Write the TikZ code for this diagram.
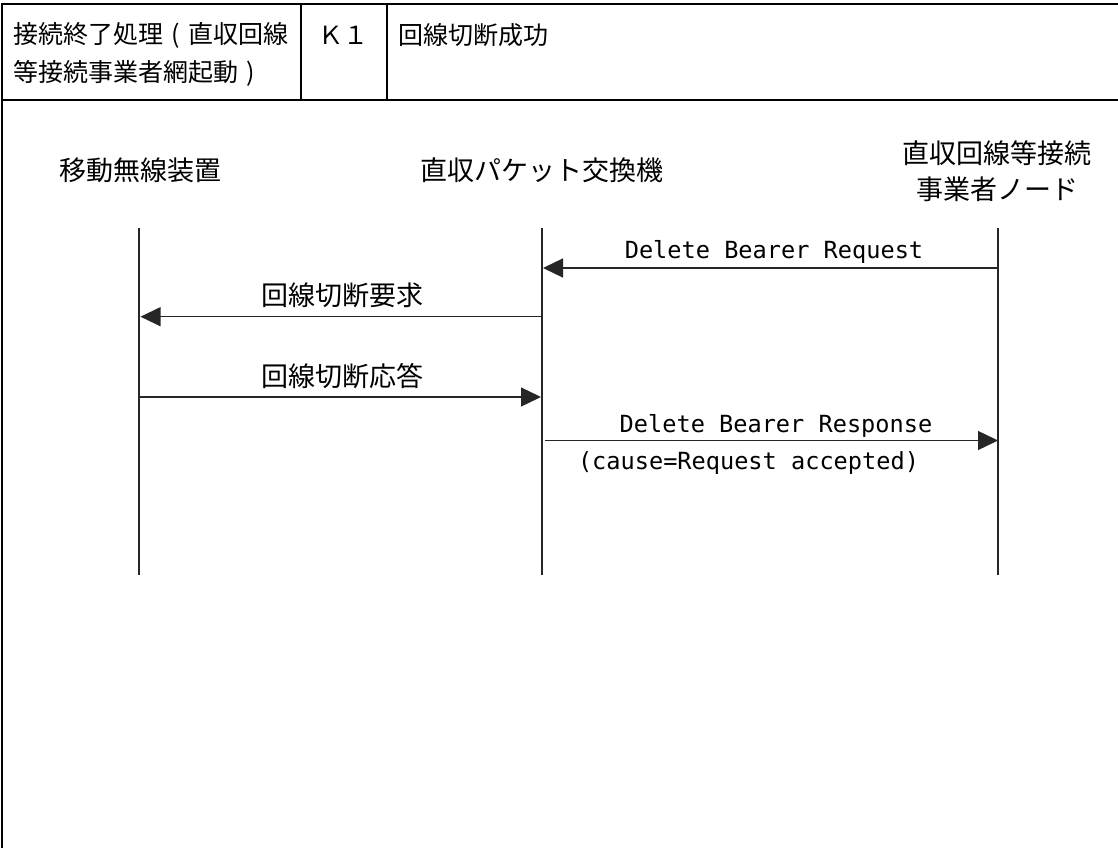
\documentclass[tikz,border=0pt]{standalone}
\usepackage{fontspec}
\newfontfamily\jp{Noto Sans CJK JP}
\newfontfamily\mono{DejaVu Sans Mono}
\usetikzlibrary{arrows.meta}
\newcommand{\cellparen}[1]{\makebox[25pt][c]{#1}}
\begin{document}
\begin{tikzpicture}[x=1pt,y=-1pt,
  frame/.style={line width=2pt, black},
  life/.style={line width=1.3pt, black!85},
  msg/.style={line width=1.3pt, black!85, -{Triangle[length=20pt,width=19pt]}},
  hdr/.style={font=\jp\fontsize{25}{30}\selectfont, inner sep=0pt, anchor=base west},
  hdrc/.style={font=\jp\fontsize{25}{30}\selectfont, inner sep=0pt, anchor=base},
  part/.style={font=\jp\fontsize{27}{32}\selectfont, inner sep=0pt, anchor=base},
  lbl/.style={font=\jp\fontsize{27}{32}\selectfont, inner sep=0pt, anchor=base},
  mlbl/.style={font=\mono\fontsize{23.6}{28}\selectfont, inner sep=0pt, anchor=base},
]
\useasboundingbox (0,0) rectangle (1118,848);
\fill[white] (0,0) rectangle (1118,848);

% frame
\coordinate (ftr) at (1118,4.5);
\coordinate (ftl) at (1.5,4.5);
\coordinate (fbl) at (1.5,848);
\coordinate (hl) at (1.5,100);
\coordinate (hr) at (1118,100);
\coordinate (d1t) at (301,4.5);
\coordinate (d1b) at (301,100);
\coordinate (d2t) at (387,4.5);
\coordinate (d2b) at (387,100);
\draw[frame] (ftr) -- (ftl) -- (fbl);
\draw[frame] (hl) -- (hr);
\draw[frame] (d1t) -- (d1b);
\draw[frame] (d2t) -- (d2b);

% header texts
\node[hdr] (h1) at (13,44) {接続終了処理\cellparen{(}直収回線};
\node[hdr] (h2) at (13,82) {等接続事業者網起動\cellparen{)}};
\node[hdrc] (hk) at (343,45) {Ｋ１};
\node[hdr] (ht) at (398,45) {回線切断成功};

% participants
\node[part] (pa) at (140,180) {移動無線装置};
\node[part] (pb) at (542,180) {直収パケット交換機};
\node[part] (pc1) at (997,163) {直収回線等接続};
\node[part] (pc2) at (997,199) {事業者ノード};

% lifelines
\coordinate (at) at (139,228);
\coordinate (ab) at (139,575);
\coordinate (bt) at (542,228);
\coordinate (bb) at (542,575);
\coordinate (ct) at (998,228);
\coordinate (cb) at (998,575);
\draw[life] (at) -- (ab);
\draw[life] (bt) -- (bb);
\draw[life] (ct) -- (cb);

% messages
\coordinate (m1s) at (998,268);
\coordinate (m1e) at (543,268);
\coordinate (m2s) at (542,316.7);
\coordinate (m2e) at (140.5,316.7);
\coordinate (m3s) at (139,397);
\coordinate (m3e) at (541,397);
\coordinate (m4s) at (545,440.5);
\coordinate (m4e) at (998,440.5);
\draw[msg] (m1s) -- (m1e);
\draw[msg] (m2s) -- (m2e);
\draw[msg] (m3s) -- (m3e);
\draw[msg] (m4s) -- (m4e);

\node[mlbl] (l1) at (774,258) {Delete Bearer Request};
\node[lbl] (l2) at (342.5,305) {回線切断要求};
\node[lbl] (l3) at (342.5,386) {回線切断応答};
\node[mlbl] (l4) at (776,432) {Delete Bearer Response};
\node[mlbl] (l5) at (748.5,469) {(cause=Request accepted)};
\end{tikzpicture}
\end{document}
